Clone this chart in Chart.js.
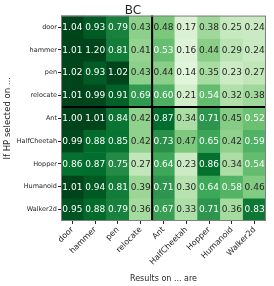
<!DOCTYPE html>
<html lang="en">
<head>
    <meta charset="UTF-8">
    <title>BC</title>
    <script src="https://cdn.jsdelivr.net/npm/chart.js@4.4.0/dist/chart.umd.min.js"></script>
    <style>
        html, body { margin: 0; padding: 0; background: #fff; }
        .chart-box { width: 274px; height: 286px; }
    </style>
</head>
<body>
<div class="chart-box">
    <canvas id="chart" width="274" height="286"></canvas>
</div>
<script>
    const rowLabels = ['door', 'hammer', 'pen', 'relocate', 'Ant', 'HalfCheetah', 'Hopper', 'Humanoid', 'Walker2d']
    const colLabels = ['door', 'hammer', 'pen', 'relocate', 'Ant', 'HalfCheetah', 'Hopper', 'Humanoid', 'Walker2d']

    const door = [1.04, 0.93, 0.79, 0.43, 0.48, 0.17, 0.38, 0.25, 0.24]
    const hammer = [1.01, 1.20, 0.81, 0.41, 0.53, 0.16, 0.44, 0.29, 0.24]
    const pen = [1.02, 0.93, 1.02, 0.43, 0.44, 0.14, 0.35, 0.23, 0.27]
    const relocate = [1.01, 0.99, 0.91, 0.69, 0.60, 0.21, 0.54, 0.32, 0.38]
    const ant = [1.00, 1.01, 0.84, 0.42, 0.87, 0.34, 0.71, 0.45, 0.52]
    const halfCheetah = [0.99, 0.88, 0.85, 0.42, 0.73, 0.47, 0.65, 0.42, 0.59]
    const hopper = [0.86, 0.87, 0.75, 0.27, 0.64, 0.23, 0.86, 0.34, 0.54]
    const humanoid = [1.01, 0.94, 0.81, 0.39, 0.71, 0.30, 0.64, 0.58, 0.46]
    const walker2d = [0.95, 0.88, 0.79, 0.36, 0.67, 0.33, 0.71, 0.36, 0.83]

    const values = [door, hammer, pen, relocate, ant, halfCheetah, hopper, humanoid, walker2d]

    // matplotlib "Greens", clipped to 0..1
    const greens = ['#f7fcf5', '#e5f5e0', '#c7e9c0', '#a1d99b', '#74c476', '#41ab5d', '#238b45', '#006d2c', '#00441b']

    function hexToRgb(h) {
        return [parseInt(h.slice(1, 3), 16), parseInt(h.slice(3, 5), 16), parseInt(h.slice(5, 7), 16)]
    }

    function greenFor(v) {
        let t = Math.max(0, Math.min(1, v)) * (greens.length - 1)
        let i = Math.min(Math.floor(t), greens.length - 2)
        let f = t - i
        let a = hexToRgb(greens[i]), b = hexToRgb(greens[i + 1])
        let c = a.map((x, k) => Math.round(x + (b[k] - x) * f))
        return `rgb(${c[0]},${c[1]},${c[2]})`
    }

    const font = 'DejaVu Sans'

    const cellText = {
        id: 'cellText',
        afterDatasetsDraw(chart) {
            const ctx = chart.ctx
            ctx.save()
            ctx.font = `9px "${font}"`
            ctx.textAlign = 'center'
            ctx.textBaseline = 'middle'
            chart.data.datasets.forEach((ds, i) => {
                chart.getDatasetMeta(i).data.forEach((bar, j) => {
                    const v = values[i][j]
                    ctx.fillStyle = v > 0.5 ? '#ffffff' : '#262626'
                    ctx.fillText(v.toFixed(2), bar.x, (bar.y + bar.base) / 2 + 0.5)
                })
            })

            const {left, right, top, bottom} = chart.chartArea
            const xs = chart.scales.x, ys = chart.scales.y
            const sx = (xs.getPixelForValue(3) + xs.getPixelForValue(4)) / 2
            const sy = ys.getPixelForValue(4)
            ctx.strokeStyle = '#000'
            ctx.lineWidth = 2
            ctx.beginPath()
            ctx.moveTo(sx, top)
            ctx.lineTo(sx, bottom)
            ctx.moveTo(left, sy)
            ctx.lineTo(right, sy)
            ctx.stroke()

            ctx.strokeStyle = '#808080'
            ctx.lineWidth = 1
            ctx.strokeRect(left + 0.5, top + 0.5, right - left - 1, bottom - top - 1)
            ctx.restore()
        }
    }

    new Chart(document.getElementById('chart'), {
        type: 'bar',
        data: {
            labels: colLabels,
            datasets: values.map((row, i) => ({
                label: rowLabels[i],
                data: row.map(() => 1),
                backgroundColor: row.map(greenFor),
                borderWidth: 0,
                barPercentage: 1,
                categoryPercentage: 1
            }))
        },
        plugins: [cellText],
        options: {
            responsive: false,
            animation: false,
            layout: {padding: {top: 2, right: 8, bottom: 2, left: 0}},
            plugins: {
                legend: {display: false},
                tooltip: {enabled: false},
                title: {
                    display: true,
                    text: 'BC',
                    color: '#262626',
                    font: {family: font, size: 12, weight: 'normal', lineHeight: 0.8},
                    padding: {top: 4, bottom: 0}
                }
            },
            scales: {
                x: {
                    stacked: true,
                    offset: true,
                    afterFit: (s) => { s.height = 63 },
                    grid: {offset: false, drawOnChartArea: false, tickLength: 3, color: '#262626'},
                    border: {display: false},
                    ticks: {
                        color: '#262626', font: {family: font, size: 8},
                        maxRotation: 45, minRotation: 45, autoSkip: false, padding: 1
                    },
                    title: {
                        display: true, text: 'Results on ... are', color: '#262626',
                        font: {family: font, size: 8}, padding: {top: 0, bottom: 0}
                    }
                },
                y: {
                    stacked: true,
                    reverse: true,
                    min: 0,
                    max: 9,
                    afterFit: (s) => { s.width = 61 },
                    afterBuildTicks: (s) => { s.ticks = rowLabels.map((r, i) => ({value: i + 0.5})) },
                    grid: {drawOnChartArea: false, tickLength: 3, color: '#262626'},
                    border: {display: false},
                    ticks: {
                        color: '#262626', font: {family: font, size: 6.5}, autoSkip: false, padding: 1,
                        callback: (v, i) => rowLabels[i]
                    },
                    title: {
                        display: true, text: 'If HP selected on ...', color: '#262626',
                        font: {family: font, size: 8.5}, padding: {top: 3, bottom: 0}
                    }
                }
            }
        }
    })
</script>
</body>
</html>
